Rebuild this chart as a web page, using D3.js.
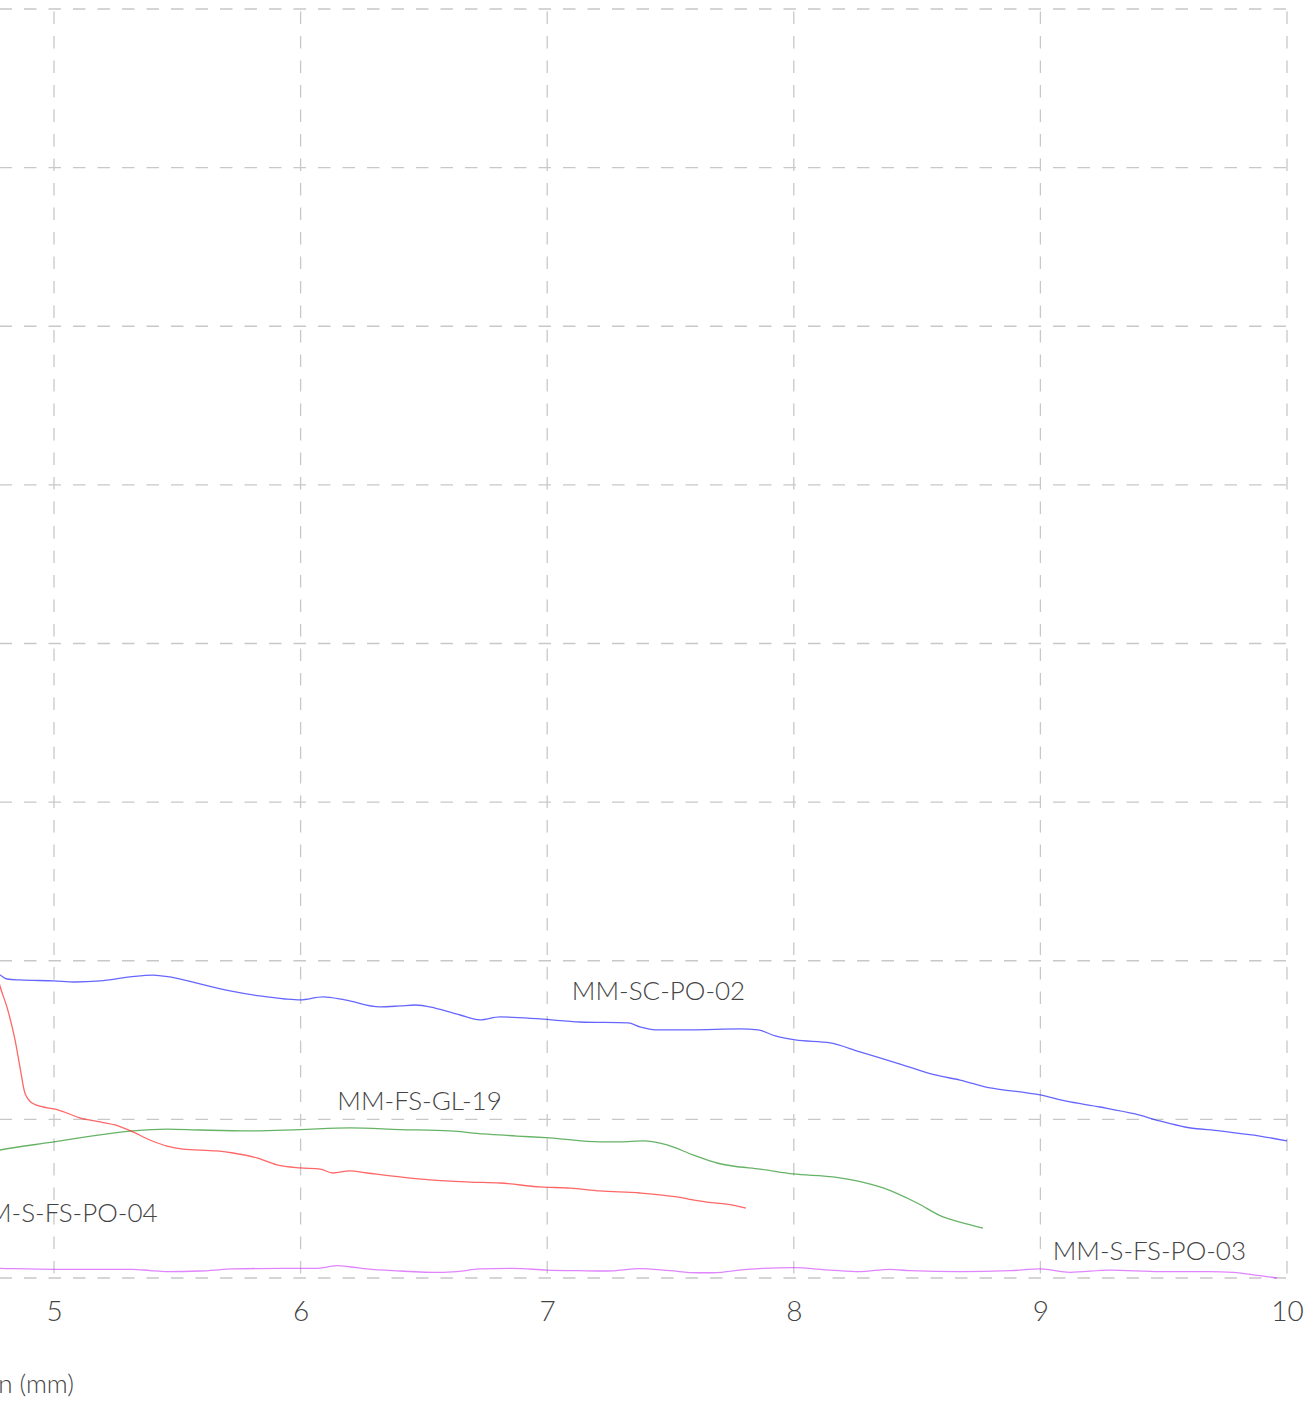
<!DOCTYPE html>
<html>
<head>
<meta charset="utf-8">
<script src="https://cdn.jsdelivr.net/npm/d3@7"></script>
<style>
  html, body { margin: 0; padding: 0; background: #fff; }
  svg { display: block; }
  text { font-family: Lato, "Open Sans", sans-serif; font-weight: 300; fill: #444; }
</style>
</head>
<body>
<svg id="chart" width="1313" height="1403"></svg>
<script>
// Load–extension curves: [extension (mm), load]
const seriesNames = ["MM-SC-PO-02", "MM-FS-GL-19", "MM-S-FS-PO-04", "MM-S-FS-PO-03"];
const seriesColors = ["blue", "green", "red", "#cc33ff"];

const scPo02 = [
  [4.720, 1.942], [4.781, 1.910], [4.809, 1.885], [4.862, 1.879], [5.000, 1.873],
  [5.085, 1.866], [5.187, 1.873], [5.308, 1.898], [5.401, 1.910], [5.470, 1.898],
  [5.592, 1.854], [5.714, 1.810], [5.835, 1.778], [5.937, 1.759], [5.998, 1.753],
  [6.091, 1.772], [6.180, 1.753], [6.322, 1.709], [6.403, 1.715], [6.464, 1.721],
  [6.545, 1.702], [6.647, 1.658], [6.727, 1.627], [6.808, 1.646], [6.971, 1.633],
  [7.133, 1.614], [7.328, 1.608], [7.376, 1.583], [7.437, 1.564], [7.579, 1.564],
  [7.782, 1.570], [7.855, 1.564], [7.925, 1.526], [8.006, 1.501], [8.148, 1.482],
  [8.268, 1.425], [8.431, 1.349], [8.573, 1.280], [8.674, 1.248], [8.796, 1.198],
  [8.918, 1.173], [8.999, 1.154], [9.100, 1.116], [9.242, 1.078], [9.384, 1.034],
  [9.485, 0.990], [9.586, 0.952], [9.728, 0.927], [9.890, 0.895], [10.000, 0.864]
];

const fsGl19 = [
  [4.720, 0.788], [4.781, 0.807], [5.000, 0.858], [5.187, 0.902], [5.320, 0.927],
  [5.458, 0.939], [5.592, 0.933], [5.795, 0.927], [5.998, 0.936], [6.200, 0.946],
  [6.403, 0.936], [6.606, 0.927], [6.740, 0.908], [6.877, 0.895], [7.011, 0.883],
  [7.214, 0.858], [7.295, 0.858], [7.389, 0.864], [7.486, 0.839], [7.591, 0.776],
  [7.689, 0.725], [7.753, 0.706], [7.863, 0.687], [7.997, 0.656], [8.159, 0.637],
  [8.256, 0.612], [8.362, 0.568], [8.500, 0.473], [8.605, 0.385], [8.674, 0.353],
  [8.767, 0.315]
];

const sFsPo04 = [
  [4.757, 2.005], [4.781, 1.841], [4.809, 1.709], [4.842, 1.501], [4.862, 1.330],
  [4.882, 1.166], [4.911, 1.103], [4.956, 1.078], [5.000, 1.066], [5.053, 1.040],
  [5.105, 1.009], [5.187, 0.984], [5.247, 0.965], [5.320, 0.921], [5.389, 0.870],
  [5.458, 0.832], [5.523, 0.813], [5.661, 0.801], [5.726, 0.788], [5.823, 0.757],
  [5.904, 0.713], [5.998, 0.694], [6.079, 0.687], [6.131, 0.662], [6.200, 0.675],
  [6.269, 0.662], [6.403, 0.637], [6.525, 0.618], [6.687, 0.605], [6.809, 0.599],
  [6.971, 0.574], [7.092, 0.567], [7.214, 0.549], [7.376, 0.536], [7.526, 0.511],
  [7.591, 0.492], [7.648, 0.479], [7.753, 0.460], [7.806, 0.441]
];

const sFsPo03 = [
  [4.720, 0.063], [4.781, 0.061], [5.000, 0.055], [5.320, 0.055], [5.389, 0.047],
  [5.458, 0.040], [5.592, 0.044], [5.726, 0.057], [5.929, 0.061], [6.067, 0.061],
  [6.107, 0.069], [6.148, 0.078], [6.200, 0.071], [6.269, 0.057], [6.403, 0.044],
  [6.565, 0.035], [6.634, 0.040], [6.727, 0.057], [6.861, 0.061], [6.999, 0.050],
  [7.133, 0.046], [7.242, 0.044], [7.376, 0.059], [7.498, 0.046], [7.607, 0.033],
  [7.672, 0.033], [7.810, 0.055], [7.875, 0.061], [7.997, 0.065], [8.147, 0.050],
  [8.268, 0.040], [8.390, 0.055], [8.471, 0.046], [8.674, 0.040], [8.877, 0.046],
  [8.999, 0.057], [9.120, 0.036], [9.282, 0.050], [9.485, 0.040], [9.688, 0.040],
  [9.781, 0.036], [9.890, 0.015], [9.960, 0.000]
];

const seriesData = [scPo02, fsGl19, sFsPo04, sFsPo03];

// where each curve's name is written, in data units
const labelAt = [[7.100, 1.753], [6.149, 1.060], [5.420, 0.354], [9.050, 0.114]];
const labelAnchor = ["start", "start", "end", "start"];

const xGridTicks = [0, 1, 2, 3, 4, 5, 6, 7, 8, 9, 10];
const xLabelTicks = [5, 6, 7, 8, 9, 10];
const yTicks = [0, 1, 2, 3, 4, 5, 6, 7, 8];
const xTitle = "Extension (mm)";

// ---- layout ----
const plotRight = 1287, plotTop = 9, plotBottom = 1278;
const unitPx = 246.6;
const x = d3.scaleLinear().domain([0, 10]).range([plotRight - 10 * unitPx, plotRight]);
const y = d3.scaleLinear().domain([0, 8]).range([plotBottom, plotTop]);

const svg = d3.select("#chart");

// dashed grid
const dashPeriod = 24.5, dash = "12.5 12";
const mod = (a, m) => ((a % m) + m) % m;
const grid = svg.append("g").attr("stroke", "#c8c8c8").attr("stroke-width", 1.3).attr("fill", "none");

grid.selectAll("line.h").data(yTicks).join("line")
  .attr("class", "h")
  .attr("x1", x(0)).attr("x2", x(10))
  .attr("y1", d => y(d)).attr("y2", d => y(d))
  .attr("stroke-dasharray", dash)
  .attr("stroke-dashoffset", mod(x(0) + 0.5, dashPeriod));

grid.selectAll("line.v").data(xGridTicks).join("line")
  .attr("class", "v")
  .attr("x1", d => x(d)).attr("x2", d => x(d))
  .attr("y1", y(8)).attr("y2", y(0))
  .attr("stroke-dasharray", dash)
  .attr("stroke-dashoffset", dashPeriod - 2.5);

// x axis labels
const xAxis = d3.axisBottom(x).tickValues(xLabelTicks).tickSize(0).tickPadding(0).tickFormat(d3.format("d"));
const xg = svg.append("g").attr("transform", `translate(0,${plotBottom})`).call(xAxis);
xg.select(".domain").remove();
xg.selectAll("text")
  .attr("dy", null).attr("y", 43)
  .style("font-size", "28px").style("font-family", "Lato, sans-serif").style("font-weight", 300).attr("fill", "#444");

svg.append("text")
  .attr("x", 74).attr("y", 1393)
  .attr("text-anchor", "end")
  .style("font-size", "26px")
  .text(xTitle);

// curves
const line = d3.line().x(d => x(d[0])).y(d => y(d[1])).curve(d3.curveMonotoneX);
svg.append("g").selectAll("path").data(seriesData).join("path")
  .attr("d", line)
  .attr("fill", "none")
  .attr("stroke", (d, i) => seriesColors[i])
  .attr("stroke-opacity", 0.6)
  .attr("stroke-width", 1.3);

// curve names
svg.append("g").selectAll("text").data(seriesNames).join("text")
  .attr("x", (d, i) => x(labelAt[i][0]))
  .attr("y", (d, i) => y(labelAt[i][1]))
  .attr("text-anchor", (d, i) => labelAnchor[i])
  .style("font-size", "26px")
  .text(d => d);
</script>
</body>
</html>
